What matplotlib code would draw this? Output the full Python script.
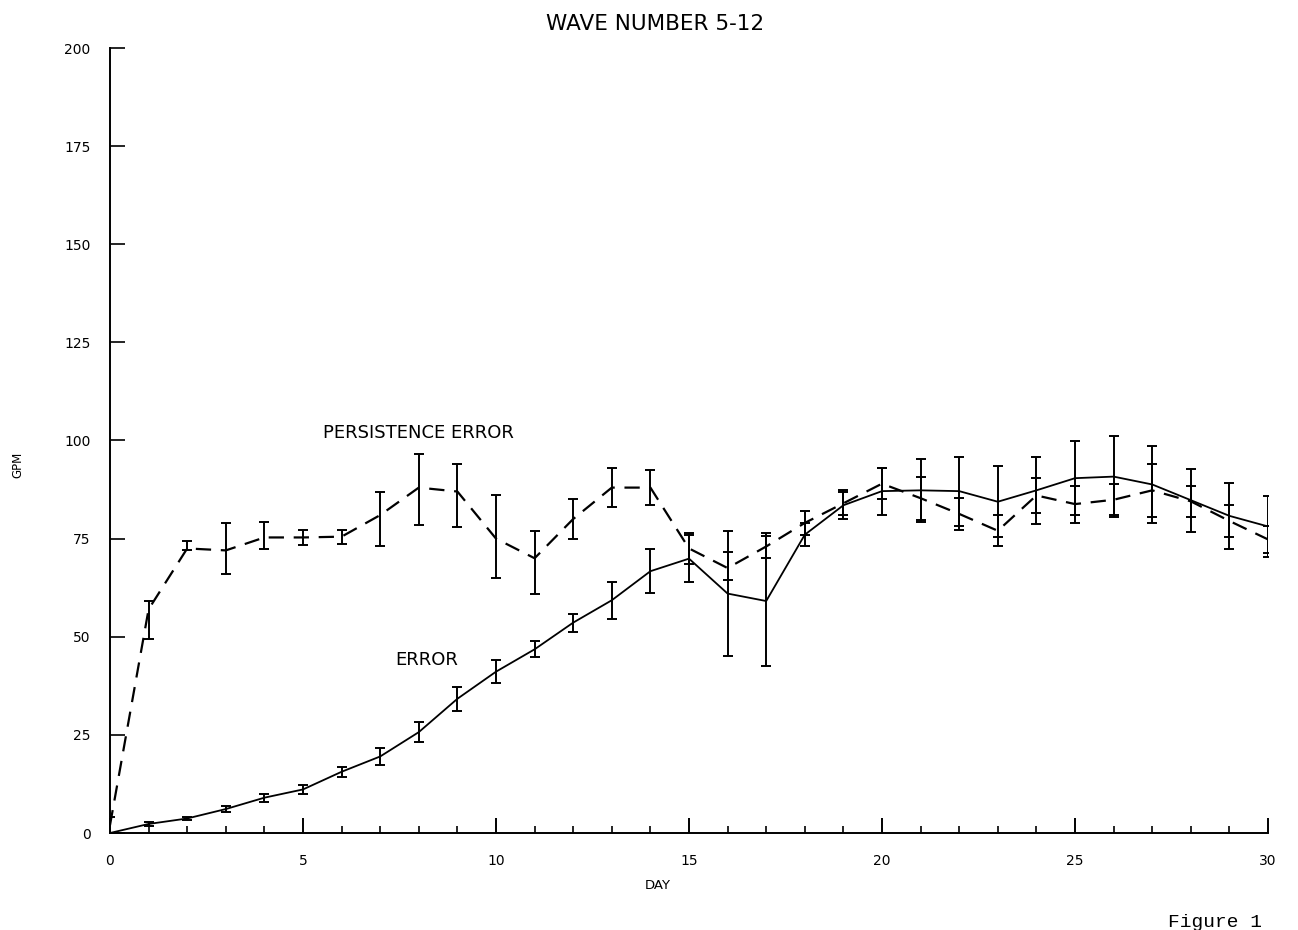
import matplotlib
matplotlib.use("Agg")
import matplotlib.pyplot as plt
import numpy as np

# ---- data ----
days = list(range(0, 31))

error_mean = [0, 2.3, 3.7, 6.1, 9.0, 11.1, 15.6, 19.5, 25.7, 34.2, 41.1,
              46.8, 53.6, 59.3, 66.7, 69.9, 61.0, 59.1, 76.0, 83.5, 87.1,
              87.3, 87.1, 84.4, 87.3, 90.4, 90.8, 88.8, 84.8, 80.8, 78.1]
error_err = [0, 0.5, 0.5, 0.8, 1.0, 1.2, 1.3, 2.2, 2.5, 3.0, 3.0,
             2.0, 2.3, 4.7, 5.6, 6.0, 16.0, 16.5, 3.0, 3.5, 6.0,
             8.0, 8.8, 9.0, 8.5, 9.5, 10.4, 9.7, 8.0, 8.4, 7.7]

pers_mean = [2, 57, 72.5, 72, 75.3, 75.3, 75.5, 81, 88, 87, 75,
             70, 80, 88, 88, 72.5, 67.5, 73, 79, 84, 89,
             85.3, 81.3, 77, 86, 83.8, 84.9, 87.3, 84.5, 79.5, 74.8]
pers_err_lo = [2, 7.5, 0.5, 6, 3, 2, 1.8, 8, 9.5, 9, 10,
               9, 5, 5, 4.5, 4, 3, 3, 3, 3, 4,
               5.5, 4, 4, 4.5, 4.7, 4, 6.7, 4, 4, 3.5]
pers_err_hi = [2, 2, 2, 7, 4, 2, 1.8, 6, 8.5, 7, 11,
               7, 5, 5, 4.5, 4, 4, 3.5, 3, 3.5, 4,
               5.5, 4, 4, 4.5, 4.7, 4, 6.7, 4, 4, 3.5]

x_ticks = [0, 5, 10, 15, 20, 25, 30]
y_ticks = [0, 25, 50, 75, 100, 125, 150, 175, 200]

title = "WAVE NUMBER 5-12"
x_label = "DAY"
y_label = "GPM"
label_pers = "PERSISTENCE ERROR"
label_err = "ERROR"

# ---- figure ----
plt.rcParams['font.family'] = ['DejaVu Sans']
plt.rcParams['lines.scale_dashes'] = False

fig = plt.figure(figsize=(12.98, 9.30), dpi=100)
ax = fig.add_axes([110 / 1298, 97 / 930, 1158 / 1298, 785 / 930])

ax.plot(days, error_mean, color='black', lw=1.3, solid_joinstyle='round')
ax.errorbar(days, error_mean, yerr=error_err, fmt='none', ecolor='black',
            elinewidth=1.4, capsize=3.5, capthick=1.4)

ax.plot(days, pers_mean, color='black', lw=1.6, linestyle=(0, (11, 7)))
ax.errorbar(days, pers_mean, yerr=[pers_err_lo, pers_err_hi], fmt='none',
            ecolor='black', elinewidth=1.4, capsize=3.5, capthick=1.4)

ax.set_xlim(0, 30)
ax.set_ylim(0, 200)
for s in ['top', 'right']:
    ax.spines[s].set_visible(False)
for s in ['left', 'bottom']:
    ax.spines[s].set_linewidth(1.4)

ax.set_xticks(x_ticks)
ax.set_xticks(days, minor=True)
ax.set_yticks(y_ticks)
ax.tick_params(axis='x', which='major', direction='in', length=11, width=1.4,
               pad=15, labelsize=10)
ax.tick_params(axis='x', which='minor', direction='in', length=5, width=1.2)
ax.tick_params(axis='y', which='major', direction='in', length=11, width=1.2,
               pad=14, labelsize=10)

fig.text(0.505, 0.985, title, ha='center', va='top', fontsize=15.5)
fig.text(0.507, 0.048, x_label, ha='center', va='center', fontsize=9.5)
fig.text(0.014, 0.50, y_label, ha='center', va='center', fontsize=8.5,
         rotation=90)

ax.text(8.0, 102, label_pers, ha='center', va='center', fontsize=13)
ax.text(8.2, 44, label_err, ha='center', va='center', fontsize=13)

fig.text(0.936, 0.008, "Figure 1", ha='center', va='center', fontsize=14,
         family='Liberation Mono')

fig.savefig("out.png", dpi=100, facecolor='white')
